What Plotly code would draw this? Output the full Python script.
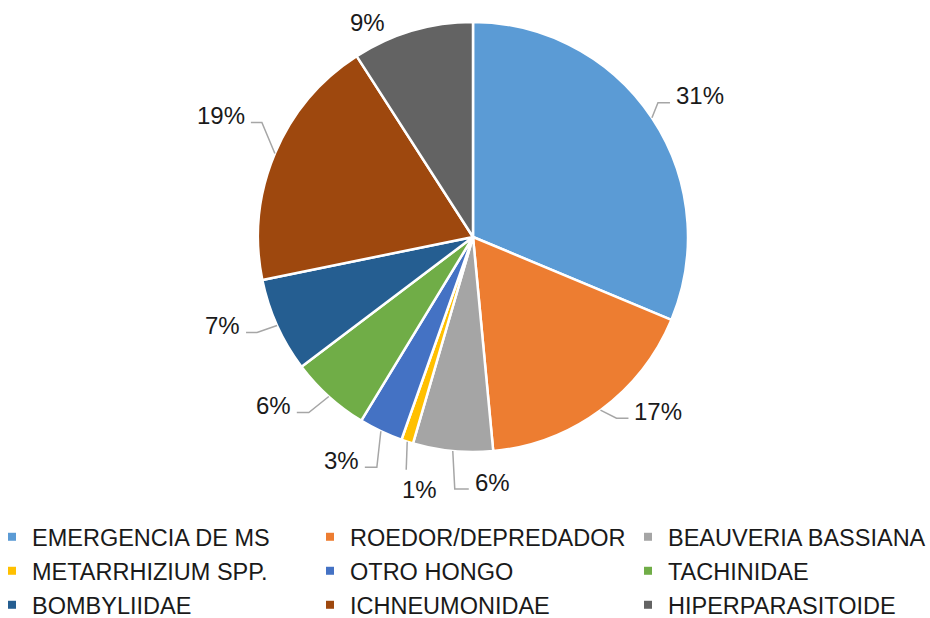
import math
import plotly.graph_objects as go

# ---------------- data ----------------
categories = [
    "EMERGENCIA DE MS", "ROEDOR/DEPREDADOR", "BEAUVERIA BASSIANA",
    "METARRHIZIUM SPP.", "OTRO HONGO", "TACHINIDAE",
    "BOMBYLIIDAE", "ICHNEUMONIDAE", "HIPERPARASITOIDE",
]
values = [31.3, 17.2, 6.0, 0.9, 3.3, 6.0, 7.1, 19.1, 9.1]
colors = ["#5B9BD5", "#ED7D31", "#A5A5A5", "#FFC000", "#4472C4",
          "#70AD47", "#255E91", "#9E480E", "#636363"]

# ---------------- style / layout ----------------
W, H = 930, 618
CX, CY, R = 473, 237, 215           # pie centre / radius in pixels
FONT = "Liberation Sans, Arial, sans-serif"
TXT = "#1a1a1a"
LINE = "#A6A6A6"
FS_LABEL = 24
FS_LEG = 23.5
LEG_COL_X = [12, 330, 648]          # legend marker centres (px)
LEG_ROW_Y = [537, 571, 605]         # legend row centres (px)

# leader-line style per slice: (elbow dx, elbow dy, horizontal run, label mode)
leader = [
    (6, -15, 12, "left"),
    (16, 8, 12, "left"),
    (2, 38, 14, "left"),
    (-1, 28, 0, "below"),
    (-4, 36, -12, "right"),
    (-20, 16, -12, "right"),
    (-20, 7, -11, "right"),
    (-13, -31, -11, "right"),
    (None, None, None, "near"),
]


def px(x):
    return x / W


def py(y):
    return 1 - y / H


fig = go.Figure()
fig.add_trace(go.Pie(
    labels=categories, values=values, sort=False, direction="clockwise",
    rotation=0, textinfo="none", hoverinfo="label+percent",
    marker=dict(colors=colors, line=dict(color="white", width=2.5)),
    domain=dict(x=[px(CX - R), px(CX + R)], y=[py(CY + R), py(CY - R)]),
    showlegend=False,
))

total = sum(values)
annotations, shapes = [], []
cum = 0.0
for v, (edx, edy, run, mode) in zip(values, leader):
    mid = (cum + v / 2) / total * 2 * math.pi
    cum += v
    ex, ey = CX + R * math.sin(mid), CY - R * math.cos(mid)
    label = f"{round(v / total * 100)}%"
    if mode == "near":
        ax, ay, xa = ex - 25, ey - 8, "right"
    else:
        bx, by = ex + edx, ey + edy
        cx2 = bx + run
        shapes.append(dict(
            type="path", xref="paper", yref="paper",
            path=f"M {px(ex)},{py(ey)} L {px(bx)},{py(by)} L {px(cx2)},{py(by)}",
            line=dict(color=LINE, width=1.5)))
        if mode == "left":
            ax, ay, xa = cx2 + 4, by - 7, "left"
        elif mode == "right":
            ax, ay, xa = cx2 - 4, by - 7, "right"
        else:
            ax, ay, xa = bx + 13, by + 20, "center"
    annotations.append(dict(
        x=px(ax), y=py(ay), xref="paper", yref="paper", text=label,
        showarrow=False, xanchor=xa, yanchor="middle",
        font=dict(family=FONT, size=FS_LABEL, color=TXT)))

# legend entries: one single-item legend per grid cell (3 x 3)
legends = {}
for i, (name, col) in enumerate(zip(categories, colors)):
    key = "legend" if i == 0 else f"legend{i + 1}"
    fig.add_trace(go.Scatter(
        x=[None], y=[None], mode="markers", name=name,
        marker=dict(symbol="square", size=8, color=col),
        legend=key, showlegend=True, hoverinfo="skip"))
    legends[key] = dict(
        orientation="h", xanchor="left", yanchor="middle",
        x=px(LEG_COL_X[i % 3] - 20), y=py(LEG_ROW_Y[i // 3]),
        font=dict(family=FONT, size=FS_LEG, color=TXT),
        bgcolor="rgba(0,0,0,0)", borderwidth=0,
    )

fig.update_layout(
    width=W, height=H,
    margin=dict(l=0, r=0, t=0, b=0, autoexpand=False),
    paper_bgcolor="white", plot_bgcolor="white",
    xaxis=dict(visible=False), yaxis=dict(visible=False),
    annotations=annotations, shapes=shapes,
    **legends,
)

fig.write_html("out.html", config={"displayModeBar": False},
               post_script="document.body.style.margin='0';")
